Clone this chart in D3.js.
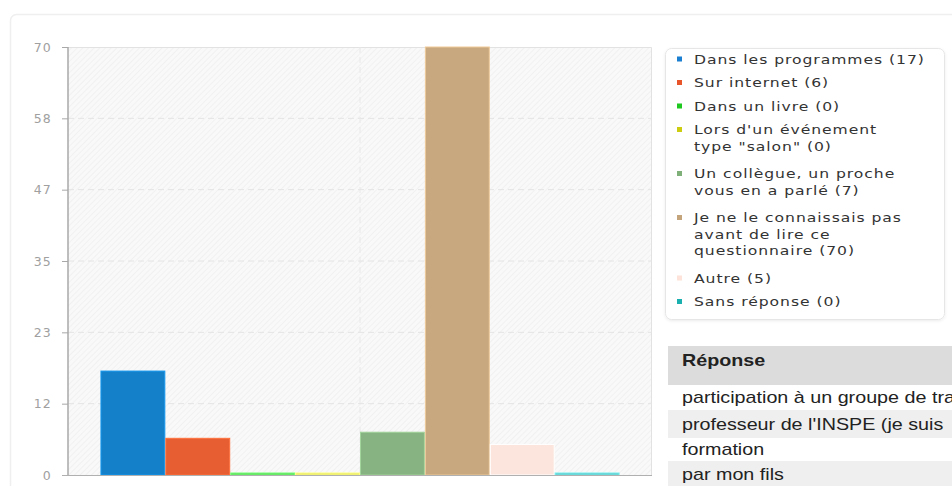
<!DOCTYPE html>
<html><head><meta charset="utf-8">
<script src="https://cdn.jsdelivr.net/npm/d3@7/dist/d3.min.js"></script>
<style>
html,body{margin:0;padding:0;background:#fff;overflow:hidden;width:952px;height:486px;}
svg{display:block;}
</style></head>
<body>
<svg id="c" width="952" height="486"></svg>
<script>
const categories = ["Dans les programmes","Sur internet","Dans un livre","Lors d'un événement type \"salon\"","Un collègue, un proche vous en a parlé","Je ne le connaissais pas avant de lire ce questionnaire","Autre","Sans réponse"];
const values = [17, 6, 0, 0, 7, 70, 5, 0];
const legendLines = [
  ["Dans les programmes (17)"],
  ["Sur internet (6)"],
  ["Dans un livre (0)"],
  ["Lors d'un événement","type \"salon\" (0)"],
  ["Un collègue, un proche","vous en a parlé (7)"],
  ["Je ne le connaissais pas","avant de lire ce","questionnaire (70)"],
  ["Autre (5)"],
  ["Sans réponse (0)"]
];
const barColors = ["#1380c9","#e65e31","#5fd65f","#e2e26a","#87b282","#c8a87f","#fce5dc","#62c6c6"];
const markerColors = ["#1a7fd0","#e8552b","#1fc81f","#cccc11","#7fb07a","#c4a47a","#fde3da","#1ab0b0"];
const yTicks = [0, 70/6, 140/6, 35, 280/6, 350/6, 70];
const tableHeader = "Réponse";
const tableRows = ["participation à un groupe de tra","professeur de l'INSPE (je suis","formation","par mon fils"];

const svg = d3.select("#c");
const defs = svg.append("defs");
const pat = defs.append("pattern").attr("id","hatch").attr("patternUnits","userSpaceOnUse")
  .attr("width",4).attr("height",4).attr("patternTransform","rotate(45)");
pat.append("rect").attr("width",4).attr("height",4).attr("fill","#f9f9f9");
pat.append("line").attr("x1",0).attr("y1",0).attr("x2",0).attr("y2",4).attr("stroke","#efefef").attr("stroke-width",1.5);
const flt = defs.append("filter").attr("id","shadow").attr("x","-10%").attr("y","-10%").attr("width","120%").attr("height","120%");
flt.append("feDropShadow").attr("dx",0).attr("dy",1).attr("stdDeviation",1.5).attr("flood-color","#000").attr("flood-opacity",0.08);

// outer card
svg.append("rect").attr("x",10.5).attr("y",14.5).attr("width",1000).attr("height",520).attr("rx",6)
  .attr("fill","#fff").attr("stroke","#efefef").attr("stroke-width",1.5);

const M = {left:68, top:47, right:652, bottom:475};
const x = d3.scaleBand().domain(d3.range(categories.length)).range([M.left, M.right]).paddingInner(0).paddingOuter(0.5);
const y = d3.scaleLinear().domain([0,70]).range([M.bottom, M.top]);

// plot bg
svg.append("rect").attr("x",M.left).attr("y",M.top).attr("width",M.right-M.left).attr("height",M.bottom-M.top).attr("fill","url(#hatch)");
svg.append("path").attr("d",`M${M.left},${M.top+0.5}H${M.right-0.5}V${M.bottom}`).attr("fill","none").attr("stroke","#e2e2e2").attr("stroke-width",1);

// grid
const grid = svg.append("g");
grid.selectAll("line.h").data(yTicks.slice(1,-1)).join("line").attr("class","h")
  .attr("x1",M.left).attr("x2",M.right).attr("y1",d=>y(d)).attr("y2",d=>y(d))
  .attr("stroke","#e4e4e4").attr("stroke-dasharray","6,4").attr("stroke-width",1);
grid.append("line").attr("x1",(M.left+M.right)/2).attr("x2",(M.left+M.right)/2).attr("y1",M.top).attr("y2",M.bottom)
  .attr("stroke","#e8e8e8").attr("stroke-dasharray","6,4");

// bars
svg.append("g").selectAll("rect").data(values).join("rect")
  .attr("x",(d,i)=>x(i)+0.5).attr("width",x.bandwidth()-1)
  .attr("y",d=>Math.min(y(d), M.bottom-2)).attr("height",d=>Math.max(M.bottom-y(d),2))
  .attr("fill",(d,i)=>barColors[i])
  .attr("stroke",(d,i)=>d3.color(barColors[i]).brighter(0.5))
  .attr("stroke-width",1);

// axes
const yAxis = d3.axisLeft(y).tickValues(yTicks).tickFormat(d=>Math.round(d)).tickSize(6).tickPadding(10);
const ga = svg.append("g").attr("transform",`translate(${M.left},0)`).call(yAxis);
ga.select(".domain").attr("stroke","#a8a8a8").attr("stroke-width",1.5).attr("d",`M0,${M.top}V${M.bottom}`);
ga.selectAll(".tick line").attr("stroke","#a8a8a8");
ga.selectAll(".tick text").attr("fill","#a0a0a0").style("font-family","DejaVu Sans, sans-serif").style("font-size","12.5px").style("letter-spacing","1.2px");
svg.append("line").attr("x1",M.left-6).attr("x2",M.right).attr("y1",M.bottom+0.5).attr("y2",M.bottom+0.5).attr("stroke","#b0b0b0").attr("stroke-width",1.2);

// legend
const lg = svg.append("g");
lg.append("rect").attr("x",665.5).attr("y",48.5).attr("width",279).attr("height",271).attr("rx",6)
  .attr("fill","#fff").attr("stroke","#e6e6e6").attr("filter","url(#shadow)");
let ly = 59;
legendLines.forEach((lines,i)=>{
  const g = lg.append("g");
  g.append("rect").attr("x",677).attr("y",ly-2.5).attr("width",5).attr("height",5).attr("fill",markerColors[i]);
  lines.forEach((t,j)=>{
    g.append("text").attr("transform",`translate(694,${ly + j*16.5}) scale(1.2,1)`).attr("dy","0.35em")
      .attr("fill","#333").style("font-family","DejaVu Sans, sans-serif").style("font-size","13px").style("letter-spacing","0.8px")
      .text(t);
  });
  ly = ly + (lines.length-1)*16.5 + 23.5 + (lines.length>1?4:0);
});

// table
const tb = svg.append("g");
tb.append("rect").attr("x",668).attr("y",346).attr("width",300).attr("height",39).attr("fill","#dcdcdc");
tb.append("text").attr("transform","translate(682,360) scale(1.16,1)").attr("dy","0.35em").attr("fill","#222")
  .style("font-family","Liberation Sans, Arial, sans-serif").style("font-size","17px").style("font-weight","bold").text(tableHeader);
const rowTop = [385,410,438,461];
const rowH = [25,28,23,26];
const rowBg = ["#fff","#efefef","#fff","#efefef"];
tableRows.forEach((t,i)=>{
  tb.append("rect").attr("x",668).attr("y",rowTop[i]).attr("width",300).attr("height",rowH[i]).attr("fill",rowBg[i]);
  tb.append("text").attr("transform",`translate(682,${rowTop[i]+rowH[i]/2}) scale(1.16,1)`).attr("dy","0.35em").attr("fill","#222")
    .style("font-family","Liberation Sans, Arial, sans-serif").style("font-size","17px").text(t);
});
</script>
</body></html>
